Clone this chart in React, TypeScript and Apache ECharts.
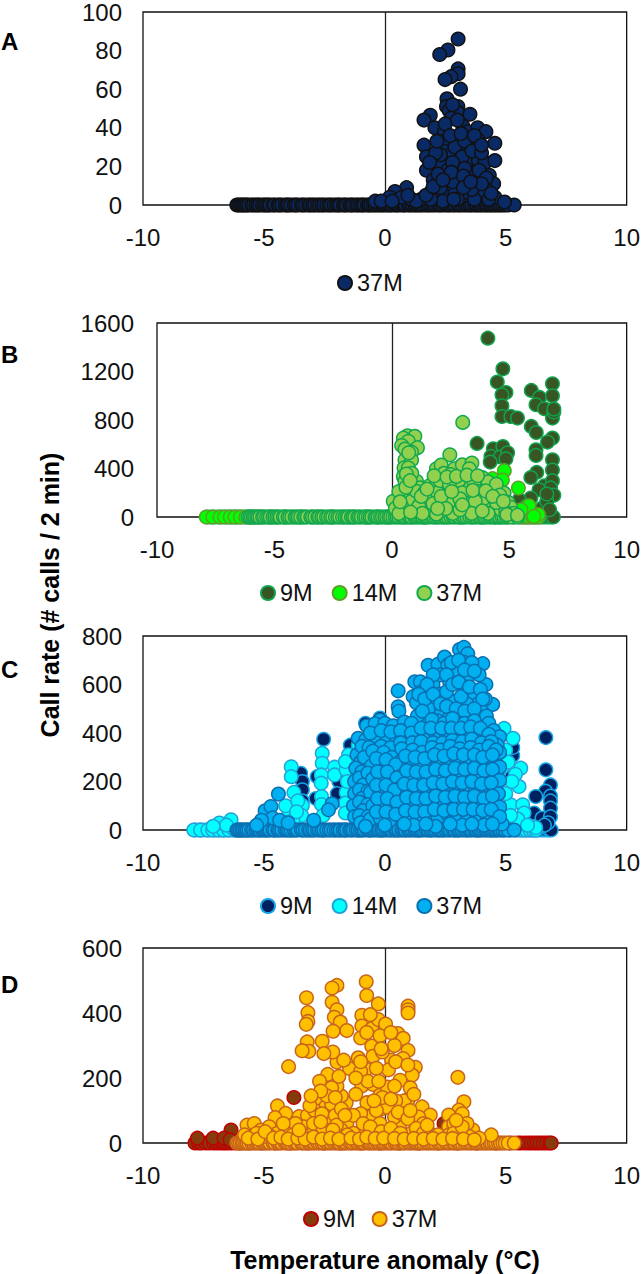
import React, { useEffect, useRef } from "react";
import * as echarts from "echarts";

type P = [number, number];

const xTicksMin = -10;
const xTicksMax = 10;

// Temperature anomalies at which each deployment logged a zero call rate
const zero37M = [-6.12,-6.05,-5.98,-5.9,-5.84,-5.76,-5.7,-5.62,-5.5,-5.43,-5.33,-5.25,-5.18,-5.06,-4.98,-4.9,-4.82,-4.75,-4.62,-4.55,-4.42,-4.35,-4.26,-4.12,-4.05,-3.98,-3.88,-3.75,-3.68,-3.6,-3.45,-3.38,-3.28,-3.15,-3.08,-2.98,-2.9,-2.78,-2.7,-2.6,-2.52,-2.4,-2.3,-2.22,-2.1,-2.0,-1.92,-1.85,-1.72,-1.65,-1.58,-1.45,-1.38,-1.3,-1.18,-1.1,-1.0,-0.92,-0.85,-0.72,-0.65,-0.58,-0.48,-0.4,-0.3,-0.22,-0.12,-0.05,0.05,0.15,0.22,0.3,0.42,0.5,0.58,0.7,0.78,0.85,0.98,1.05,1.15,1.25,1.32,1.42,1.5,1.6,1.72,1.8,1.9,2.0,2.1,2.22,2.3,2.4,2.52,2.62,2.7,2.82,2.9,3.02,3.1,3.2,3.32,3.42,3.52,3.6,3.72,3.8,3.9,3.98,4.08,4.18,4.25,4.35,4.42,4.52,4.6,4.7,4.78,4.88,4.98,5.1,5.35];
const zero14M = [-7.9,-7.62,-7.32,-7.12,-6.88,-6.68,-6.45,-6.22,-6.08,-5.9,-5.7,-5.5,-5.2,-4.9,-4.6,-4.2,-3.8,-3.4,-3,-2.6,-2.1,-1.6,-1.1,-0.6,-0.1,0.4,0.9,1.4,1.9,2.4,2.9,3.4,3.9,4.4,4.9,5.2,5.42,5.6,5.72,5.85,6.0,6.12,6.24];
const zero9M = [-7.85,-7.7,-7.58,-7.4,-7.25,-7.08,-6.95,-6.82,-6.7,-6.6,-6.48,-6.35,-6.2,-6.0,-5.6,-5.1,-4.5,-3.9,-3.2,-2.5,-1.8,-1,-0.2,0.6,1.4,2.2,3,3.8,4.6,5.2,5.5,5.62,5.78,5.92,6.05,6.18,6.3,6.42,6.55,6.68,6.8,6.88];

const aUpper37M: P[] = [[3.03,86],[2.61,80.3],[2.27,78],[3.03,70.5],[3.03,68],[2.74,66.5],[2.49,65],[3.13,60],[2.57,55],[2.55,51],[2.66,49],[3.02,51],[3.02,48],[2.74,45],[3.52,47],[1.88,46.5],[1.62,44],[2.07,40],[3.22,41],[3.43,38],[3.84,40],[4.18,38],[3.84,34],[2.47,38],[2.43,33],[3.02,35],[4.55,32],[1.62,31],[3.43,30],[2.43,28],[2.81,27],[1.72,25],[2.06,23],[2.31,21],[1.72,18],[2.6,18],[3.09,20],[3.43,23],[3.87,23],[4.14,22],[4.55,23],[2.0,13],[2.95,15.4],[4.32,15.4],[3.84,15.4],[3.43,13],[4.5,11],[3.81,10],[2.6,11],[3.02,9.5],[2.65,7],[4.2,8],[4.55,4],[3.3,5],[1.92,7],[0.9,9],[0.42,7],[1.5,3],[0.2,4],[0.7,4],[1.1,3],[2.2,4],[2.9,6],[3.5,6],[4.0,5],[3.0,3],[2.4,2],[3.7,3],[4.3,3],[1.9,3],[1.3,2],[-0.4,2],[-0.15,2],[0.3,2],[4.95,1.5],[2.3,26],[2.1,27],[2.9,30],[3.2,25],[3.5,17],[3.1,12],[2.2,16],[2.8,22],[3.9,18],[4.2,14],[1.85,22],[3.3,33],[2.5,42],[2.8,52],[3.0,44],[3.6,28],[4.0,27],[2.3,9],[3.6,8],[4.4,6],[2.8,12],[3.3,19],[1.7,5],[2.0,9.5],[2.7,36],[3.15,37],[3.7,36],[2.15,33],[4.0,31],[2.75,17],[3.25,15],[3.25,9],[4.0,11],[3.55,12],[2.4,13],[2.85,3],[0.95,5]];

const bUpper9M: P[] = [[4.09,1475],[4.73,1222],[4.49,1113],[4.86,1027],[4.69,1008],[4.69,917],[4.69,829],[5.07,829],[5.35,816],[5.94,1044],[6.29,986],[6.14,926],[6.5,893],[6.84,1099],[6.84,1000],[6.84,816],[6.9,865],[6.9,890],[5.94,747],[6.15,697],[6.84,651],[6.63,618],[3.63,607],[4.32,563],[4.73,581],[4.22,500],[4.62,495],[4.93,530],[4.19,453],[4.86,480],[6.14,555],[6.14,508],[6.84,472],[6.84,387],[6.17,368],[5.92,326],[6.5,258],[6.84,300],[6.76,240],[6.9,180],[6.27,225],[5.92,157],[6.4,74],[6.6,130],[5.42,143],[5.75,90],[6.6,190],[6.72,60]];
const bUpper14M: P[] = [[4.79,382],[5.39,239],[3.45,294],[4.29,316],[4.71,305],[5.84,93],[6.24,20],[6.05,5],[5.5,60]];
const bUpper37M: P[] = [[3.02,780],[2.47,513],[0.67,670],[0.98,665],[0.49,650],[0.7,625],[1.09,572],[0.42,590],[0.56,560],[0.84,535],[0.56,470],[0.84,470],[0.52,405],[0.7,405],[0.49,335],[0.56,295],[1.05,295],[1.19,240],[0.7,185],[0.42,157],[0.84,130],[0.42,87],[0.06,130],[1.05,212],[0.15,70],[0.3,210],[0.6,245],[0.85,360],[1.4,205],[1.62,260],[1.85,250],[1.9,398],[2.1,429],[2.22,360],[2.67,398],[3.0,430],[3.41,445],[3.3,398],[2.5,350],[3.85,325],[4.36,225],[4.78,197],[3.8,225],[1.6,150],[1.35,110],[2.07,120],[2.67,180],[3.05,290],[3.3,170],[4.15,140],[2.3,240],[1.95,200],[2.85,300],[2.05,300],[2.45,270],[3.0,200],[3.5,280],[3.65,210],[4.1,290],[4.45,270],[4.6,180],[4.95,120],[5.06,80],[1.6,60],[1.15,90],[2.1,50],[2.67,80],[3.3,60],[3.75,90],[4.25,70],[4.65,60],[3.15,110],[2.4,110],[1.75,110],[3.9,150],[4.85,40],[5.2,30],[2.9,150],[3.55,130],[4.45,120],[1.3,30],[1.9,25],[2.6,30],[3.4,30],[4.1,30],[4.9,20],[0.3,30],[0.8,40],[5.35,15],[0.72,530],[0.62,355],[0.78,300],[0.35,125],[1.25,170],[1.8,340],[2.35,330],[2.75,335],[3.2,345],[3.65,340],[2.1,170],[2.55,210],[3.45,220],[4.0,215],[4.3,170],[4.75,130],[3.85,50],[2.9,60],[2.3,70],[1.5,230],[1.95,70],[3.0,100]];

const cUpper9M: P[] = [[-2.53,374],[-3.48,234],[-3.41,200],[-3.41,166],[-3.41,120],[-2.8,220],[-2.85,130],[-1.9,200],[-1.97,150],[-1.43,350],[-0.2,462],[-0.8,440],[6.66,381],[6.66,248],[5.29,307],[5.29,340],[6.85,186],[6.65,160],[6.85,140],[6.24,138],[6.85,120],[6.85,90],[6.17,70],[6.5,49],[6.85,55],[6.75,30],[6.6,20],[5.25,220]];
const cUpper14M: P[] = [[-3.87,261],[-3.87,220],[-3.76,155],[-3.41,101],[-3.44,60],[-3.97,70],[-3.8,40],[-4.1,100],[-3.6,120],[-3.65,75],[-6.36,42],[-6.84,29],[-6.55,20],[-7.1,15],[-2.59,316],[-2.59,275],[-2.63,227],[-2.63,193],[-2.62,138],[-2.62,105],[-2.55,60],[-2.08,259],[-2.08,227],[-1.6,248],[-1.6,155],[-1.63,111],[-1.63,70],[-1.5,310],[-1.63,282],[-1.1,350],[-1.3,200],[-1.55,200],[-4.1,30],[4.93,419],[5.3,378],[5.62,255],[5.55,179],[5.4,230],[5.25,200],[4.87,260],[5.2,104],[5.7,104],[5.76,70],[5.5,45],[5.2,60],[6.24,10],[5.9,20],[5.0,330],[5.0,150],[5.1,280]];
const cUpper37M: P[] = [[0.55,574],[0.55,508],[0.58,490],[1.79,679],[2.2,684],[2.47,713],[3.09,744],[3.27,753],[3.43,727],[3.27,692],[4.05,686],[1.24,611],[1.47,611],[1.99,600],[2.68,611],[3.5,640],[1.51,570],[1.17,550],[1.31,525],[2.27,560],[3.29,590],[4.18,600],[4.46,518],[3.71,555],[2.33,490],[3.09,464],[1.65,457],[3.98,437],[0.62,423],[-0.2,453],[2.6,680],[2.95,650],[2.3,640],[2.0,640],[1.75,600],[3.6,690],[3.9,640],[4.15,540],[3.85,520],[3.4,520],[2.8,530],[2.55,570],[1.9,520],[1.35,470],[1.8,500],[2.2,450],[2.65,460],[3.5,470],[4.0,490],
[2.75,690],[3.05,700],[3.3,660],[3.7,655],[2.55,640],[2.8,600],[3.05,610],[3.15,550],[3.5,590],[3.95,580],[4.05,540],[1.4,560],[1.65,540],[2.0,560],[2.3,520],[2.55,510],[2.95,500],[3.3,490],[3.7,500],[4.2,470],[1.55,490],[1.95,455],[2.45,440],[2.8,460],[3.3,440],[3.7,450],[4.3,440],
[-4.4,148],[-4.95,79],[-4.71,97],[-4.64,50],[-5.1,40],[-4.35,40],[-2.18,108],[-2.33,83],[-2.94,40],[-4.0,30],[-5.3,20],
[-1.1,378],[-0.75,430],[-0.4,438],[0.0,440],[0.35,430],[0.8,445],[1.1,440],[-1.15,310],[-0.8,370],[-0.35,385],[0.1,380],[0.5,370],[0.9,385],[1.3,400],[1.75,385],[2.1,400],[2.55,390],[2.95,410],[3.35,395],[3.75,405],[4.1,390],[4.5,410],[4.75,385],
[-0.95,345],[-0.6,400],[-0.15,410],[0.25,405],[0.65,410],[1.1,400],[1.5,420],[1.9,420],[2.35,420],[2.75,420],[3.15,420],[3.55,425],[3.95,420],[4.3,395],[4.65,350],[-1.0,280],[-0.65,340],[-0.15,345],[0.25,340],[0.65,360],[1.15,360],[1.5,365],[2.0,360],[2.4,360],[2.8,370],[3.2,365],[3.6,375],[4.0,360],[4.4,365],[4.75,320],
[-1.2,255],[-0.85,300],[-0.5,325],[-0.05,320],[0.3,300],[0.7,335],[1.15,330],[1.55,320],[1.95,340],[2.3,330],[2.7,345],[3.1,335],[3.55,340],[3.9,330],[4.3,345],[4.6,330],
[-1.25,200],[-0.95,240],[-0.55,265],[-0.15,265],[0.25,245],[0.62,280],[1.0,270],[1.4,265],[1.8,285],[2.2,270],[2.6,285],[3.0,280],[3.4,285],[3.8,270],[4.2,285],[4.55,270],
[-1.05,215],[-0.7,235],[-0.35,295],[0.05,290],[0.45,270],[0.85,305],[1.25,300],[1.65,295],[2.05,310],[2.45,305],[2.85,315],[3.25,310],[3.7,310],[4.05,300],[4.45,310],[4.75,260],
[-1.25,150],[-0.9,185],[-0.5,210],[-0.1,215],[0.3,190],[0.7,225],[1.1,215],[1.5,210],[1.9,225],[2.3,215],[2.7,230],[3.1,220],[3.5,230],[3.9,215],[4.3,230],[4.6,210],
[-1.05,165],[-0.7,160],[-0.3,240],[0.1,240],[0.5,215],[0.9,245],[1.3,240],[1.7,240],[2.1,250],[2.5,245],[2.9,255],[3.3,250],[3.7,255],[4.1,245],[4.45,250],[4.75,205],
[-1.3,100],[-0.95,130],[-0.6,155],[-0.2,160],[0.2,140],[0.55,170],[0.95,160],[1.35,155],[1.75,170],[2.15,160],[2.55,175],[2.95,165],[3.35,175],[3.75,160],[4.15,175],[4.5,155],
[-1.05,115],[-0.7,105],[-0.35,185],[0.05,185],[0.4,165],[0.8,190],[1.2,185],[1.6,185],[2.0,195],[2.4,190],[2.8,200],[3.2,195],[3.6,200],[4.0,190],[4.4,195],[4.7,150],
[-1.25,55],[-0.9,80],[-0.5,100],[-0.1,105],[0.3,90],[0.7,115],[1.1,105],[1.5,100],[1.9,115],[2.3,105],[2.7,120],[3.1,110],[3.5,120],[3.9,105],[4.3,120],[4.55,100],
[-1.05,60],[-0.7,55],[-0.3,130],[0.1,130],[0.5,115],[0.9,135],[1.3,130],[1.7,130],[2.1,140],[2.5,135],[2.9,140],[3.3,135],[3.7,140],[4.1,130],[4.45,140],[4.75,95],
[-1.0,30],[-0.6,45],[-0.2,50],[0.2,40],[0.6,60],[1.0,50],[1.4,45],[1.8,60],[2.2,50],[2.6,65],[3.0,55],[3.4,65],[3.8,50],[4.2,65],[4.6,50],[4.85,25],[1.2,20],[2.1,15],[3.2,20],[4.1,20],
[-0.35,75],[0.05,75],[0.45,65],[0.85,80],[1.25,75],[1.65,75],[2.05,85],[2.45,80],[2.85,85],[3.25,85],[3.65,85],[4.05,80],[4.4,85],[4.75,55],[-0.8,15],[0.0,20],[0.8,25],[1.7,25],[2.7,25],[3.6,25],[4.45,25]];

const dUpper9M: P[] = [[-3.76,140],[-6.36,40],[-7.75,15],[-7.1,15],[-6.65,15],[-6.4,10],[2.45,60]];
const dUpper37M: P[] = [[-0.77,496],[-0.75,454],[-0.27,428],[-1.98,485],[-2.18,477],[-2.18,433],[-1.98,410],[-2.09,387],[-1.84,372],[-2.14,344],[-1.57,346],[-3.24,447],[-3.18,401],[-3.18,374],[-3.25,365],[-3.21,311],[-3.14,282],[-3.42,284],[-2.59,313],[-3.98,235],[-4.44,114],[-4.1,91],[-4.54,78],[-5.7,55],[-5.4,60],[-5.12,40],[-4.78,50],[-3.96,40],[-3.55,81],[-3.2,85],[-3.34,50],[-2.73,132],[-2.45,111],[-2.43,70],[-1.6,124],[-1.8,145],[-1.98,175],[-2.57,178],[-2.36,211],[-1.98,249],[-2.15,280],[-1.46,229],[-2.52,275],[-1.57,60],[-1.1,262],[-0.95,393],[-0.95,360],[-1.0,323],[-0.54,352],[-0.27,380],[-0.54,298],[-0.49,267],[-0.77,227],[-0.96,175],[-0.49,180],[-0.2,147],[-0.74,124],[-0.1,106],[-0.57,81],[-1.0,90],[0.96,421],[0.96,410],[0.96,400],[0.54,337],[0.76,322],[0.96,285],[1.26,233],[3.02,202],[1.13,209],[3.27,127],[3.06,101],[2.64,86],[2.64,50],[2.64,25],[3.64,40],[4.4,25],[1.54,111],[1.88,86],[1.2,75],[0.6,50],[0.96,132],[0.03,366],[-0.2,330],[0.28,255],[0.63,193],[0.1,172],[0.4,300],[-0.1,280],[0.15,225],[-0.35,230],[0.75,260],[1.05,170],[0.8,130],[0.45,130],[0.1,110],[0.4,80],[-0.2,60],[-2.9,100],[-3.1,115],[-2.6,90],[-2.2,120],[-2.2,170],[-2.7,190],[-1.9,205],[-2.05,85],[-1.8,40],[-2.8,50],[-3.7,60],[-4.45,30],[-5.0,20],[-5.5,20],[-0.9,40],[-1.3,30],[1.4,80],[1.6,60],[1.85,30],[2.2,25],[2.85,60],[3.2,90],[3.4,60],[3.05,30],[3.5,20],[3.9,15],[1.1,30],[0.7,90],[-3.2,25],[-2.4,30],[-1.0,220],[-0.7,190],[-0.35,100],
[-2.4,145],[-2.05,140],[-1.8,105],[-2.0,55],[-2.65,160],[-1.7,255],[-1.3,85],[-1.2,150],[-1.2,200],[-1.0,250],[-0.75,340],[-0.6,395],[-0.15,290],[0.25,340],[0.45,250],[-0.25,190],[0.4,175],[-0.1,140],[0.25,135],[0.55,95],[0.95,240],[1.2,150],[0.95,75],[1.3,45],[1.05,100],[-0.45,130],[-0.9,60],[-0.6,50],[-0.15,35],[0.25,45],[0.65,30],[1.6,30],[2.85,30],[3.2,50],[-3.45,30],[-2.95,60],[-2.55,45],[-2.15,40],[-3.8,25],[-4.2,60],[-4.8,25],[-5.3,30],[-5.8,25],[-1.55,25],[-3.05,145],
[-5.65,15],[-5.25,12],[-4.95,35],[-4.6,15],[-4.3,18],[-4.0,12],[-3.6,15],[-3.3,12],[-2.95,18],[-2.6,12],[-2.25,15],[-1.9,12],[-1.4,15],[-1.05,12],[-0.75,18],[-0.4,14],[-0.05,15],[0.4,14],[0.8,12],[1.2,14],[1.6,12],[2.0,14],[2.4,12],[2.8,14],[3.25,12],[3.7,10],[-3.55,40],[-2.65,65],[-1.65,85],[1.75,55],[2.95,70]];

const panels = ["A", "B", "C", "D"];
const panelTops = [41, 354, 669, 984];
const yMaxes = [100, 1600, 800, 600];
const yIntervals = [20, 400, 200, 200];
const yMargins = [21, 23, 21, 21];
const grids = [
  { left: 143, top: 10, width: 487, height: 195 },
  { left: 157, top: 323, width: 473, height: 194 },
  { left: 143, top: 636, width: 487, height: 194 },
  { left: 143, top: 948, width: 487, height: 195 },
];

const fontFamily = "'Liberation Sans', Arial, sans-serif";

function pts(upper: P[], zeros: number[]): P[] {
  return [...zeros.map((x) => [x, 0] as P), ...upper];
}

function scatter(name: string, idx: number, fill: string, border: string, data: P[], line = false) {
  const s: any = {
    type: "scatter",
    name,
    xAxisIndex: idx,
    yAxisIndex: idx,
    data,
    symbol: "circle",
    symbolSize: 13.5,
    clip: false,
    silent: true,
    itemStyle: { color: fill, borderColor: border, borderWidth: 1.5, opacity: 1 },
  };
  if (line) {
    s.markLine = {
      silent: true,
      symbol: "none",
      label: { show: false },
      z: 1,
      lineStyle: { color: "#222", width: 1.3, type: "solid" },
      data: [{ xAxis: 0 }],
    };
  }
  return s;
}

const seriesList = [
  scatter("A 37M", 0, "#0a2a66", "#111111", pts(aUpper37M, zero37M), true),
  scatter("B 9M", 1, "#375623", "#12a24e", pts(bUpper9M, zero9M), true),
  scatter("B 14M", 1, "#00ff00", "#5f9e2a", pts(bUpper14M, zero14M)),
  scatter("B 37M", 1, "#92d050", "#12a84e", pts(bUpper37M, zero37M)),
  scatter("C 9M", 2, "#002060", "#13a5e6", pts(cUpper9M, zero9M), true),
  scatter("C 14M", 2, "#00ffff", "#22a3d8", pts(cUpper14M, zero14M)),
  scatter("C 37M", 2, "#00b0f0", "#0b6fb0", pts(cUpper37M, zero37M)),
  scatter("D 9M", 3, "#843c0c", "#c00000", pts(dUpper9M, zero9M), true),
  scatter("D 37M", 3, "#ffc000", "#c8641a", pts(dUpper37M, zero37M)),
];

const legendStyle = (names: string[], left: number, top: number, gap: number) => ({
  data: names,
  left,
  top,
  itemGap: gap,
  itemWidth: 14,
  itemHeight: 14,
  selectedMode: false,
  padding: 0,
  formatter: (n: string) => n.split(" ")[1],
  textStyle: { fontSize: 23.5, color: "#111", fontFamily },
});

export default function App() {
  const ref = useRef<HTMLDivElement>(null);
  useEffect(() => {
    document.body.style.margin = "0";
    const chart = echarts.init(ref.current!, undefined, { renderer: "svg" });
    chart.setOption({
      animation: false,
      backgroundColor: "#ffffff",
      grid: grids.map((g) => ({ ...g, show: true, borderColor: "#111", borderWidth: 1.3, backgroundColor: "transparent" })),
      xAxis: grids.map((_, i) => ({
        type: "value",
        gridIndex: i,
        min: xTicksMin,
        max: xTicksMax,
        interval: 5,
        axisLine: { show: false },
        axisTick: { show: false },
        splitLine: { show: false },
        axisLabel: { fontSize: 24, color: "#111", fontFamily, margin: 20, hideOverlap: false },
      })),
      yAxis: grids.map((_, i) => ({
        type: "value",
        gridIndex: i,
        min: 0,
        max: yMaxes[i],
        interval: yIntervals[i],
        axisLine: { show: false },
        axisTick: { show: false },
        splitLine: { show: false },
        axisLabel: { fontSize: 24, color: "#111", fontFamily, margin: yMargins[i], formatter: (v: number) => String(v) },
      })),
      legend: [
        legendStyle(["A 37M"], 337, 271, 0),
        legendStyle(["B 9M", "B 14M", "B 37M"], 260, 581, 19),
        legendStyle(["C 9M", "C 14M", "C 37M"], 260, 894, 19),
        legendStyle(["D 9M", "D 37M"], 303, 1207, 16),
      ],
      graphic: [
        ...panels.map((p, i) => ({
          type: "text",
          x: 1,
          y: panelTops[i],
          style: { text: p, fontSize: 24, fontWeight: "bold", fontFamily, fill: "#000", textAlign: "left", textVerticalAlign: "middle" },
        })),
        {
          type: "text",
          x: 50,
          y: 595,
          rotation: Math.PI / 2,
          style: { text: "Call rate (# calls / 2 min)", fontSize: 25, fontWeight: "bold", fontFamily, fill: "#000", textAlign: "center", textVerticalAlign: "middle" },
        },
        {
          type: "text",
          x: 385,
          y: 1260,
          style: { text: "Temperature anomaly (°C)", fontSize: 25, fontWeight: "bold", fontFamily, fill: "#000", textAlign: "center", textVerticalAlign: "middle" },
        },
      ],
      series: seriesList,
    });
    return () => chart.dispose();
  }, []);
  return <div ref={ref} style={{ position: "absolute", left: 0, top: 0, width: 643, height: 1274 }} />;
}
